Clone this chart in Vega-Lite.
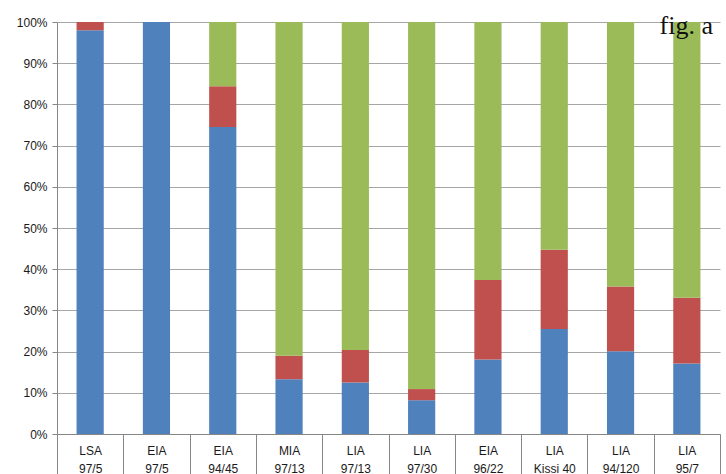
{
  "$schema": "https://vega.github.io/schema/vega-lite/v6.json",
  "autosize": "none",
  "padding": {"left": 57, "top": 22, "right": 6, "bottom": 40},
  "width": 663,
  "height": 412,
  "background": "white",
  "title": {
    "text": "fig. a",
    "font": "Liberation Serif",
    "fontSize": 26,
    "fontWeight": "normal",
    "color": "#111111",
    "anchor": "end",
    "frame": "group",
    "baseline": "alphabetic",
    "offset": -44,
    "dx": -7
  },
  "data": {
    "values": [
      {"sample": "LSA|97/5", "series": "s1", "ord": 1, "value": 0.98},
      {"sample": "LSA|97/5", "series": "s2", "ord": 2, "value": 0.02},
      {"sample": "LSA|97/5", "series": "s3", "ord": 3, "value": 0.0},
      {"sample": "EIA|97/5", "series": "s1", "ord": 1, "value": 1.0},
      {"sample": "EIA|97/5", "series": "s2", "ord": 2, "value": 0.0},
      {"sample": "EIA|97/5", "series": "s3", "ord": 3, "value": 0.0},
      {"sample": "EIA|94/45", "series": "s1", "ord": 1, "value": 0.745},
      {"sample": "EIA|94/45", "series": "s2", "ord": 2, "value": 0.099},
      {"sample": "EIA|94/45", "series": "s3", "ord": 3, "value": 0.156},
      {"sample": "MIA|97/13", "series": "s1", "ord": 1, "value": 0.133},
      {"sample": "MIA|97/13", "series": "s2", "ord": 2, "value": 0.057},
      {"sample": "MIA|97/13", "series": "s3", "ord": 3, "value": 0.81},
      {"sample": "LIA|97/13", "series": "s1", "ord": 1, "value": 0.125},
      {"sample": "LIA|97/13", "series": "s2", "ord": 2, "value": 0.079},
      {"sample": "LIA|97/13", "series": "s3", "ord": 3, "value": 0.796},
      {"sample": "LIA|97/30", "series": "s1", "ord": 1, "value": 0.082},
      {"sample": "LIA|97/30", "series": "s2", "ord": 2, "value": 0.027},
      {"sample": "LIA|97/30", "series": "s3", "ord": 3, "value": 0.891},
      {"sample": "EIA|96/22", "series": "s1", "ord": 1, "value": 0.181},
      {"sample": "EIA|96/22", "series": "s2", "ord": 2, "value": 0.193},
      {"sample": "EIA|96/22", "series": "s3", "ord": 3, "value": 0.626},
      {"sample": "LIA|Kissi 40", "series": "s1", "ord": 1, "value": 0.255},
      {"sample": "LIA|Kissi 40", "series": "s2", "ord": 2, "value": 0.192},
      {"sample": "LIA|Kissi 40", "series": "s3", "ord": 3, "value": 0.553},
      {"sample": "LIA|94/120", "series": "s1", "ord": 1, "value": 0.201},
      {"sample": "LIA|94/120", "series": "s2", "ord": 2, "value": 0.157},
      {"sample": "LIA|94/120", "series": "s3", "ord": 3, "value": 0.642},
      {"sample": "LIA|95/7", "series": "s1", "ord": 1, "value": 0.171},
      {"sample": "LIA|95/7", "series": "s2", "ord": 2, "value": 0.16},
      {"sample": "LIA|95/7", "series": "s3", "ord": 3, "value": 0.669}
    ]
  },
  "mark": {"type": "bar", "width": {"band": 0.41}},
  "encoding": {
    "x": {
      "field": "sample",
      "type": "nominal",
      "sort": null,
      "scale": {"paddingInner": 0, "paddingOuter": 0},
      "axis": {
        "title": null,
        "labelAngle": 0,
        "labelExpr": "datum.value ? split(datum.value, '|') : ''",
        "labelFont": "Liberation Sans",
        "labelFontSize": 12,
        "labelLineHeight": 18,
        "labelBaseline": "top",
        "labelColor": "#1a1a1a",
        "labelPadding": -29,
        "tickBand": "extent",
        "tickSize": 40,
        "tickColor": "#868686",
        "domainColor": "#868686",
        "grid": false,
        "labelOverlap": false,
        "labelBound": false,
        "labelFlush": false
      }
    },
    "y": {
      "field": "value",
      "type": "quantitative",
      "stack": "zero",
      "scale": {"domain": [0, 1], "nice": false},
      "axis": {
        "title": null,
        "format": ".0%",
        "values": [0, 0.1, 0.2, 0.3, 0.4, 0.5, 0.6, 0.7, 0.8, 0.9, 1.0],
        "labelFont": "Liberation Sans",
        "labelFontSize": 12,
        "labelColor": "#1a1a1a",
        "labelPadding": 5,
        "tickSize": 5,
        "tickColor": "#868686",
        "domainColor": "#868686",
        "gridColor": "#a6a6a6",
        "gridWidth": 1
      }
    },
    "color": {
      "field": "series",
      "type": "nominal",
      "scale": {"domain": ["s1", "s2", "s3"], "range": ["#4F81BD", "#C0504D", "#9BBB59"]},
      "legend": null
    },
    "order": {"field": "ord", "type": "quantitative"}
  },
  "config": {
    "view": {"stroke": null}
  }
}
